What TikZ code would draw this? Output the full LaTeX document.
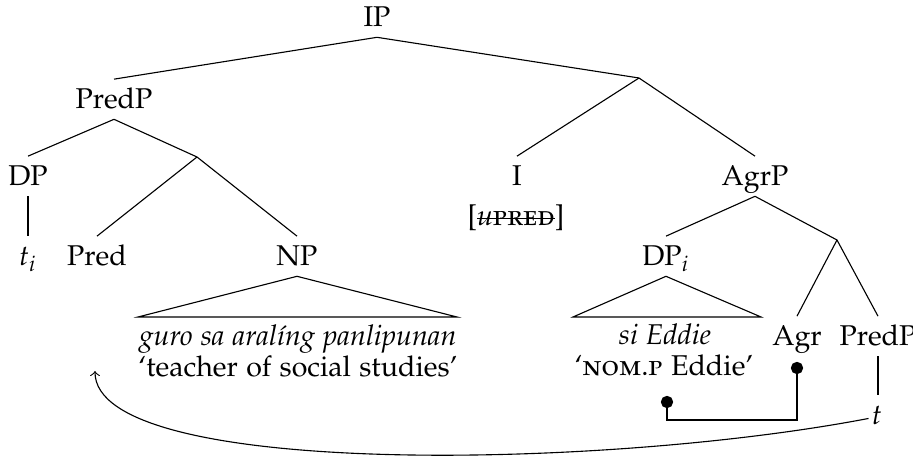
\documentclass[tikz,border=0pt]{standalone}
\usepackage[T1]{fontenc}
\usepackage[sc]{mathpazo}
\usepackage{tikz}
\usetikzlibrary{arrows}
\newsavebox{\strikebox}
\newcommand{\strikeword}[1]{\sbox{\strikebox}{#1}\rlap{\rule[0.55ex]{\wd\strikebox}{0.4pt}}\usebox{\strikebox}}
\tikzset{cat/.style={anchor=base,inner xsep=1pt,inner ysep=3.5pt,text height=7pt,text depth=0pt,font=\fontsize{10.25pt}{12pt}\selectfont}}
\tikzset{gloss/.style={cat,inner ysep=0.5pt,text height=6.5pt}}

\begin{document}
\begin{tikzpicture}[x=0.0126cm,y=-0.0126cm]
\useasboundingbox (0,0) rectangle (913,462);

% labels
\node[cat] (IP) at (377,27) {IP};
\node[cat] (PredP) at (114,109) {PredP};
\node[cat] (DP) at (28,186) {DP};
\node[cat] (I) at (517,186) {I};
\node[cat] (feat) at (516,226) {[\strikeword{\textit{u}\textsc{pred}}]};
\node[cat] (AgrP) at (755,186) {AgrP};
\node[cat] (ti) at (28,266) {$t_i$};
\node[cat] (Pred) at (97,266) {Pred};
\node[cat] (NP) at (297,266) {NP};
\node[cat] (DPi) at (666,266) {DP$_i$};
\node[gloss] (guro) at (298,346) {\textit{guro sa aral\'{\i}ng panlipunan}};
\node[gloss] (teacher) at (298,377) {`teacher of social studies'};
\node[gloss] (siE) at (665,345) {\textit{si Eddie}};
\node[gloss] (nomE) at (664,376) {`\textsc{nom.p} Eddie'};
\node[cat] (Agr) at (797,346) {Agr};
\node[cat] (PredPb) at (878,346) {PredP};
\node[cat] (t) at (877,425) {$t$};

\coordinate (ibar) at (639,78);
\coordinate (predbar) at (197,157);
\coordinate (agrbar) at (837,240);

% branches
\draw (IP.south) -- (PredP.north);
\draw (IP.south) -- (ibar);
\draw (PredP.south) -- (DP.north);
\draw (PredP.south) -- (predbar);
\draw (ibar) -- (I.north);
\draw (ibar) -- (AgrP.north);
\draw (DP.south) -- (DP.south |- ti.north);
\draw (predbar) -- (Pred.north);
\draw (predbar) -- (NP.north);
\draw (AgrP.south) -- (DPi.north);
\draw (AgrP.south) -- (agrbar);
\draw (agrbar) -- (Agr.north);
\draw (agrbar) -- (PredPb.north);
\draw (PredPb.south) -- (PredPb.south |- t.north);

% triangles
\coordinate (npl) at (138,317);
\coordinate (npr) at (457,317);
\draw (NP.south) -- (npl) -- (npr) -- cycle;
\coordinate (dpl) at (573,317);
\coordinate (dpr) at (761,317);
\draw (DPi.south) -- (dpl) -- (dpr) -- cycle;

% agreement link
\coordinate (agrdot) at (797,368);
\coordinate (nomdot) at (667,402);
\coordinate (link) at (797,420);
\draw (nomdot) |- (link) -- (agrdot);
\filldraw [black] (agrdot) circle (2pt);
\filldraw [black] (nomdot) circle (2pt);

% movement
\coordinate (gap) at (95,371);
\draw[->] (t.mid west) .. controls (600,470) and (95,478) .. (gap);

\end{tikzpicture}
\end{document}
